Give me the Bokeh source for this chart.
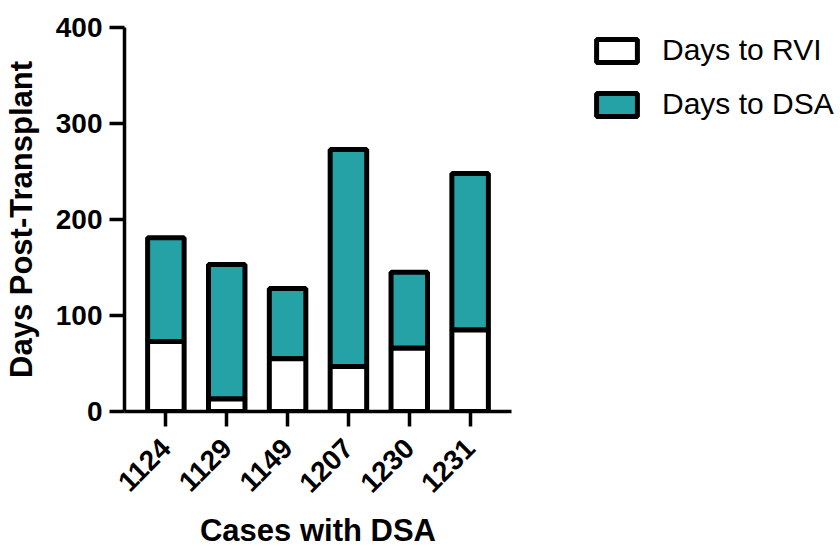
import math
from bokeh.plotting import figure
from bokeh.models import FactorRange, Range1d, FixedTicker, Legend, LegendItem, ColumnDataSource
from bokeh.embed import file_html
from bokeh.resources import INLINE

cases = ["1124", "1129", "1149", "1207", "1230", "1231"]
days_to_rvi = [73, 13, 55, 47, 66, 85]
days_to_dsa = [181, 153, 128, 273, 145, 248]
y_ticks = [0, 100, 200, 300, 400]

TEAL = "#25A2A6"
FONT = "Liberation Sans"

src = ColumnDataSource(dict(case=cases, rvi=days_to_rvi, dsa=days_to_dsa,
                            zero=[0] * len(cases)))

p = figure(x_range=FactorRange(factors=cases, range_padding=0.06, range_padding_units="percent"),
           y_range=Range1d(0, 400),
           frame_width=387, frame_height=384,
           min_border_left=122, min_border_right=315, min_border_top=27, min_border_bottom=134,
           output_backend="svg", toolbar_location=None, tools="")

r_dsa = p.vbar(x="case", bottom="rvi", top="dsa", width=0.6, source=src,
               fill_color=TEAL, line_color="black", line_width=5)
r_rvi = p.vbar(x="case", bottom="zero", top="rvi", width=0.6, source=src,
               fill_color="white", line_color="black", line_width=5)

p.outline_line_color = None
p.xgrid.grid_line_color = None
p.ygrid.grid_line_color = None
p.background_fill_color = "white"
p.border_fill_color = "white"

for ax in (p.xaxis[0], p.yaxis[0]):
    ax.axis_line_width = 3.5
    ax.axis_line_color = "black"
    ax.major_tick_line_width = 3.5
    ax.major_tick_line_color = "black"
    ax.major_tick_out = 15
    ax.major_tick_in = 0
    ax.minor_tick_line_color = None
    ax.major_label_text_font = FONT
    ax.major_label_text_font_style = "bold"
    ax.major_label_text_font_size = "28px"
    ax.major_label_text_color = "black"
    ax.axis_label_text_font = FONT
    ax.axis_label_text_font_style = "bold"
    ax.axis_label_text_font_size = "31px"
    ax.axis_label_text_color = "black"

p.yaxis[0].ticker = FixedTicker(ticks=y_ticks)
p.yaxis[0].major_label_standoff = 7
p.yaxis[0].axis_label = "Days Post-Transplant"
p.yaxis[0].axis_label_standoff = 14

p.xaxis[0].major_label_orientation = math.pi / 4
p.xaxis[0].major_label_standoff = 17
p.xaxis[0].axis_label = "Cases with DSA"
p.xaxis[0].axis_label_standoff = 9

legend = Legend(items=[LegendItem(label="Days to RVI", renderers=[r_rvi]),
                       LegendItem(label="Days to DSA", renderers=[r_dsa])],
                location=(80, 290), orientation="vertical")
legend.border_line_color = None
legend.background_fill_alpha = 0
legend.margin = 0
legend.padding = 0
legend.glyph_width = 51
legend.glyph_height = 29
legend.label_height = 28
legend.spacing = 20
legend.label_standoff = 20
legend.label_text_font = FONT
legend.label_text_font_size = "30px"
legend.label_text_color = "black"
p.add_layout(legend, "right")

open("out.html", "w").write(file_html(p, INLINE))
